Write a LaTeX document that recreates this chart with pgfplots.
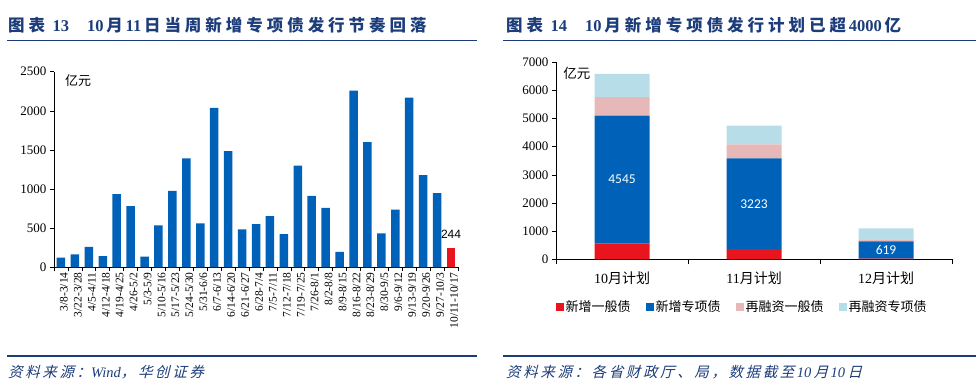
\documentclass[border=0pt]{standalone}
\usepackage{fontspec}
\usepackage{pgfplots}
\pgfplotsset{compat=1.18}
\setmainfont{Liberation Serif}
\newfontfamily\cjk{Noto Sans CJK SC}
\newfontfamily\cjkt[LetterSpace=24]{Noto Sans CJK SC}
\newfontfamily\cjksl[FakeSlant=0.25,LetterSpace=18]{Noto Sans CJK SC}
\newfontfamily\sans{Carlito}
\newfontfamily\arial{Liberation Sans}
\definecolor{barblue}{RGB}{0,97,184}
\definecolor{barred}{RGB}{232,20,30}
\definecolor{barpink}{RGB}{230,185,184}
\definecolor{barlight}{RGB}{183,222,232}
\definecolor{navy}{RGB}{28,60,122}
\begin{document}
\begin{tikzpicture}[x=1pt,y=1pt]
\useasboundingbox (0,0) rectangle (976,385);
% titles
\node[anchor=west,inner sep=0,text=navy] at (8,360) {\cjkt\bfseries\fontsize{16.5}{16.5}\selectfont 图表\hspace{0.45em}{\rmfamily\bfseries 13}\hspace{1.1em}{\rmfamily\bfseries 10}\,月\,{\rmfamily\bfseries 11}\,日当周新增专项债发行节奏回落};
\node[anchor=west,inner sep=0,text=navy] at (506,360) {\cjkt\bfseries\fontsize{16.5}{16.5}\selectfont 图表\hspace{0.45em}{\rmfamily\bfseries 14}\hspace{1.1em}{\rmfamily\bfseries 10}\,月新增专项债发行计划已超\,{\rmfamily\bfseries 4000}\,亿};
\draw[navy,line width=1.4pt] (7,344.3) -- (477,344.3);
\draw[navy,line width=1.4pt] (503,344.3) -- (976,344.3);
\draw[navy,line width=1.4pt] (7,29) -- (477,29);
\draw[navy,line width=1.4pt] (503,29) -- (976,29);
\node[anchor=west,inner sep=0,text=navy] at (8,13) {\cjksl\fontsize{14.5}{14.5}\selectfont 资料来源：{\rmfamily\itshape Wind}，华创证券};
\node[anchor=west,inner sep=0,text=navy] at (506,13) {\cjksl\fontsize{14.5}{14.5}\selectfont 资料来源：各省财政厅、局，数据截至\,{\rmfamily\itshape 10}\,月\,{\rmfamily\itshape 10}\,日};

% left chart
\begin{axis}[
  at={(54pt,117.7pt)}, anchor=south west, scale only axis,
  width=404pt, height=195.6pt,
  xmin=-0.5, xmax=28.5, ymin=0, ymax=2500,
  axis x line*=bottom, axis y line*=left,
  axis line style={black,line width=0.7pt},
  ytick={0,500,...,2500},
  /pgf/number format/1000 sep={},
  /pgf/number format/assume math mode=true,
  tick align=outside, major tick length=4pt, minor tick length=4pt,
  tick style={black,line width=0.6pt},
  every major x tick/.append style={draw=none},
  xtick={0,...,28},
  minor xtick={-0.5,0.5,...,28.5},
  xticklabels={3/8-3/14,3/22-3/28,4/5-4/11,4/12-4/18,4/19-4/25,4/26-5/2,5/3-5/9,5/10-5/16,5/17-5/23,5/24-5/30,5/31-6/6,6/7-6/13,6/14-6/20,6/21-6/27,6/28-7/4,7/5-7/11,7/12-7/18,7/19-7/25,7/26-8/1,8/2-8/8,8/9-8/15,8/16-8/22,8/23-8/29,8/30-9/5,9/6-9/12,9/13-9/19,9/20-9/26,9/27-10/3,10/11-10/17},
  xticklabel style={rotate=90,anchor=east,font=\fontsize{11.5}{11.5}\selectfont,inner sep=1pt,yshift=-3pt},
  yticklabel style={font=\fontsize{13}{13}\selectfont},
  ybar, bar width=8.5pt, bar shift=0pt,
  clip=false,
]
\addplot[fill=barblue,draw=none] coordinates {
(0,125) (1,165) (2,262) (3,142) (4,935) (5,782) (6,138) (7,535) (8,978) (9,1392)
(10,560) (11,2038) (12,1484) (13,484) (14,552) (15,655) (16,424) (17,1300) (18,914)
(19,760) (20,196) (21,2258) (22,1600) (23,433) (24,736) (25,2168) (26,1178) (27,948)};
\addplot[fill=barred,draw=none,nodes near coords,
  nodes near coords style={font=\arial\fontsize{12}{12}\selectfont,text=black,anchor=south,yshift=6pt}]
  coordinates {(28,244)};
\node[anchor=west,inner sep=0] at (rel axis cs:0.027,0.955) {\cjk\fontsize{13}{13}\selectfont 亿元};
\end{axis}

% right chart
\begin{axis}[
  at={(556pt,125.7pt)}, anchor=south west, scale only axis,
  width=396pt, height=197pt,
  xmin=-0.5, xmax=2.5, ymin=0, ymax=7000,
  axis x line*=bottom, axis y line*=left,
  axis line style={black,line width=0.7pt},
  ytick={0,1000,...,7000},
  /pgf/number format/1000 sep={},
  /pgf/number format/assume math mode=true,
  tick align=outside, major tick length=4pt, minor tick length=5pt,
  tick style={black,line width=0.6pt},
  every major x tick/.append style={draw=none},
  xtick={0,1,2},
  minor xtick={-0.5,0.5,1.5,2.5},
  xticklabels={10{\cjk 月计划},11{\cjk 月计划},12{\cjk 月计划}},
  xticklabel style={font=\fontsize{14}{14}\selectfont,yshift=-5pt},
  yticklabel style={font=\fontsize{13}{13}\selectfont},
  ybar stacked, bar width=55pt,
  legend style={at={(0.47,-0.242)},anchor=center,draw=none,
    legend columns=4,font=\cjk\fontsize{13}{13}\selectfont,
    nodes={inner xsep=2pt},
    /tikz/every even column/.append style={column sep=13pt}},
  clip=false,
]
\addplot[fill=barred,draw=none,legend image code/.code={\fill[barred] (0pt,-4pt) rectangle (8pt,4pt);}] coordinates {(0,560) (1,365) (2,20)};
\addlegendentry{新增一般债}
\addplot[fill=barblue,draw=none,legend image code/.code={\fill[barblue] (0pt,-4pt) rectangle (8pt,4pt);}] coordinates {(0,4545) (1,3223) (2,619)};
\addlegendentry{新增专项债}
\addplot[fill=barpink,draw=none,legend image code/.code={\fill[barpink] (0pt,-4pt) rectangle (8pt,4pt);}] coordinates {(0,660) (1,500) (2,70)};
\addlegendentry{再融资一般债}
\addplot[fill=barlight,draw=none,legend image code/.code={\fill[barlight] (0pt,-4pt) rectangle (8pt,4pt);}] coordinates {(0,820) (1,665) (2,390)};
\addlegendentry{再融资专项债}
\node[anchor=west,inner sep=0] at (rel axis cs:0.018,0.946) {\cjk\fontsize{13.5}{13.5}\selectfont 亿元};
\end{axis}
% labels overlay
\begin{axis}[
  at={(556pt,125.7pt)}, anchor=south west, scale only axis,
  width=396pt, height=197pt,
  xmin=-0.5, xmax=2.5, ymin=0, ymax=7000, hide axis, clip=false]
\addplot[only marks,mark=*,mark size=0pt,mark options={draw=none,fill=none},
  nodes near coords,point meta=explicit symbolic,
  nodes near coords style={anchor=center,text=white,font=\sans\fontsize{13.5}{13.5}\selectfont}]
  coordinates {(0,2832.5)[4545] (1,1976.5)[3223] (2,329.5)[619]};
\end{axis}
\end{tikzpicture}
\end{document}
